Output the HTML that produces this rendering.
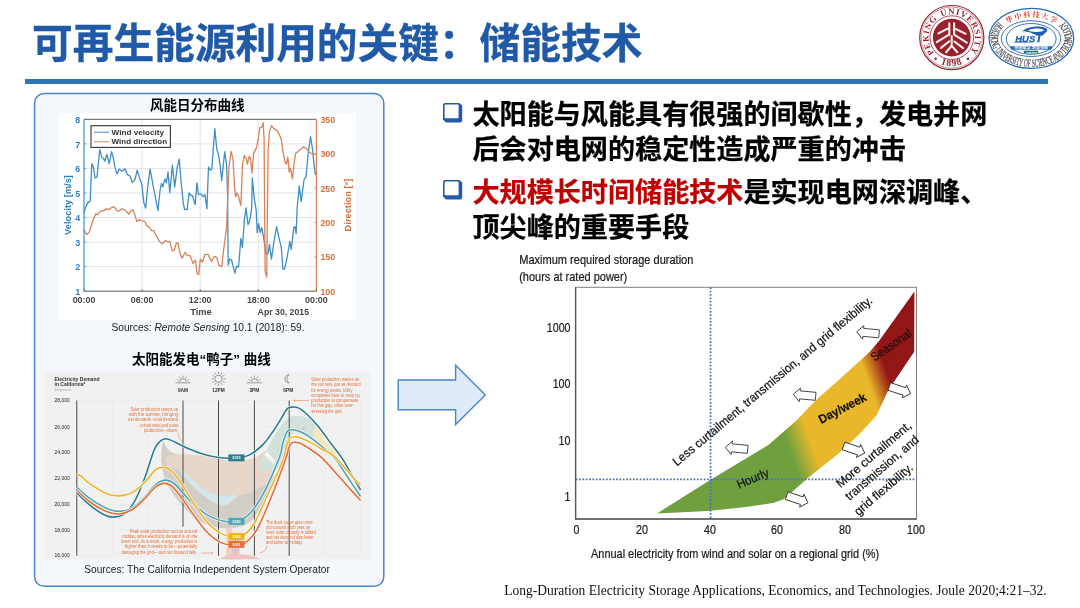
<!DOCTYPE html>
<html lang="zh-CN">
<head>
<meta charset="utf-8">
<title>可再生能源利用的关键：储能技术</title>
<style>
  html,body{margin:0;padding:0;background:#fff;}
  body{width:1080px;height:608px;position:relative;overflow:hidden;
       font-family:"Liberation Sans","Noto Sans CJK SC",sans-serif;}
  .abs{position:absolute;}
  #title{left:32px;top:15px;-webkit-text-stroke:0.35px #205aa7;font-size:40.7px;line-height:58px;font-weight:bold;color:#205aa7;white-space:nowrap;
         font-family:"Liberation Sans","Noto Sans CJK SC",sans-serif;letter-spacing:0;}
  #rule{left:25px;top:79px;width:1023px;height:5px;background:#2e75b6;}
  #panel{left:34px;top:93px;width:348px;height:492px;border:1.3px solid #4a86c6;border-radius:10px;background:#f4f8fd;}
  .ctitle{font-weight:bold;font-size:13.5px;color:#000;white-space:nowrap;text-align:center;
          font-family:"Liberation Sans","Noto Sans CJK SC",sans-serif;}
  .src{font-size:10.2px;color:#222;white-space:nowrap;text-align:center;font-family:"Liberation Sans",sans-serif;}
  .bl{-webkit-text-stroke:0.25px currentColor;left:472.5px;font-size:27.1px;line-height:34px;font-weight:bold;color:#000;white-space:nowrap;
      font-family:"Liberation Sans","Noto Sans CJK SC",sans-serif;}
  .red{color:#c00000;}
  .box{width:14px;height:13.6px;border:1.6px solid #245aa8;border-right-width:3.7px;border-bottom-width:4.3px;border-radius:2px 3px 3px 3px;background:#fff;}
  #cite{left:504.3px;top:581.5px;font-family:"Liberation Serif",serif;font-size:13.52px;line-height:18px;color:#111;white-space:nowrap;}
  #storage text{stroke:#1a1a1a;stroke-width:0.22px;}
</style>
</head>
<body>
<div id="title" class="abs">可再生能源利用的关键：储能技术</div>
<div id="rule" class="abs"></div>

<!-- LOGOS -->
<svg class="abs" style="left:910px;top:0" width="170" height="78" viewBox="910 0 170 78">
<defs><filter id="bl4" x="-5%" y="-5%" width="110%" height="110%"><feGaussianBlur stdDeviation="0.35"/></filter>
<path id="pkuTop" d="M934.22 52.89 A23.3 23.3 0 0 1 937.14 19.49"/>
<path id="pkuTop2" d="M941.59 16.66 A23.3 23.3 0 0 1 970.41 51.62"/>
<path id="pkuBot" d="M927.03 51.90 A28.6 28.6 0 0 0 976.57 51.90"/>
<path id="hustBot" d="M998.55 21.71 A40.6 28.4 0 1 0 1064.25 21.71"/>
<path id="hustTop" d="M1007.52 23.60 A33.2 21.3 0 0 1 1055.28 23.60"/>
</defs>
<g filter="url(#bl4)">
<circle cx="951.8" cy="37.6" r="32.1" fill="#fff" stroke="#9a2232" stroke-width="1.2"/>
<circle cx="951.8" cy="37.6" r="30.6" fill="none" stroke="#9a2232" stroke-width="0.5"/>
<circle cx="951.8" cy="37.6" r="21.8" fill="none" stroke="#9a2232" stroke-width="0.8"/>
<circle cx="951.8" cy="37.6" r="18.9" fill="#97202f"/>
<text font-family="'Liberation Serif',serif" font-weight="bold" font-size="8.6" fill="#9a2232"><textPath href="#pkuTop" textLength="37.4" lengthAdjust="spacing">PEKING</textPath></text>
<text font-family="'Liberation Serif',serif" font-weight="bold" font-size="8.6" fill="#9a2232"><textPath href="#pkuTop2" textLength="62.2" lengthAdjust="spacing">UNIVERSITY</textPath></text>
<text font-family="'Liberation Serif',serif" font-weight="bold" font-size="9.8" fill="#9a2232" text-anchor="middle" letter-spacing="0.9"><textPath href="#pkuBot" startOffset="50%">1898</textPath></text>
<circle cx="935.6" cy="58.7" r="1.3" fill="#9a2232"/>
<circle cx="968.0" cy="58.7" r="1.3" fill="#9a2232"/>
<path d="M949.3 23.4 L949.3 35.1 M954.1 23.4 L954.1 34.6 M938.5 33.4 L947.4 28.8 M936.8 42.2 L949.0 34.6 M941.0 47.9 L949.3 41.3 M956.0 29.1 L965.5 33.7 M954.5 34.8 L966.8 42.6 M954.3 41.5 L963.1 48.2 M951.7 36.4 L951.7 46.3 M951.7 45.7 L946.1 52.3 M951.7 45.7 L957.3 52.3" stroke="#f8ecec" stroke-width="2.1" stroke-linecap="round" fill="none"/>
<ellipse cx="1031.4" cy="38.3" rx="42.3" ry="30" fill="#fff" stroke="#2468b4" stroke-width="1.3"/>
<ellipse cx="1031.0" cy="38.6" rx="29.7" ry="17.9" fill="none" stroke="#2468b4" stroke-width="0.9"/>
<ellipse cx="1031.2" cy="38.9" rx="24.9" ry="15.4" fill="none" stroke="#2468b4" stroke-width="0.9"/>
<text font-family="'Liberation Serif',serif" font-size="10.8" fill="#444" stroke="#444" stroke-width="0.2"><textPath href="#hustBot" textLength="147.1" lengthAdjust="spacingAndGlyphs">HUAZHONG UNIVERSITY OF SCIENCE AND TECHNOLOGY</textPath></text>
<text font-family="'Liberation Serif','Noto Serif CJK SC',serif" font-weight="700" font-size="7.2" fill="#e23a2e"><textPath href="#hustTop" textLength="50.2" lengthAdjust="spacing">华中科技大学</textPath></text>
<text x="1015.3" y="42.0" font-family="'Liberation Sans',sans-serif" font-weight="bold" font-style="italic" font-size="9.2" fill="#1f5fae" stroke="#1f5fae" stroke-width="0.25" textLength="27.2" lengthAdjust="spacingAndGlyphs">HUS<tspan font-size="11.6">T</tspan></text>
<path d="M1022.0 31.3 C1028.5 25.2 1044.7 25.2 1047.3 29.5 C1046.9 33.3 1042.4 34.7 1041.0 35.5 L1036.5 35.3 C1032.9 33.3 1026.2 30.8 1022.0 31.3 Z" fill="#1f5fae"/>
<path d="M1027.9 30.4 C1032.9 28.0 1041.3 28.0 1044.1 30.3 C1041.9 32.5 1034.1 32.5 1027.9 30.4 Z" fill="#fff"/>
<path d="M1012.3 42.6 L1019.5 40.9 L1035.2 42.6 Z" fill="#1f5fae"/>
<path d="M1009.7 46.3 H1052.8 L1051.2 49.8 H1011.3 Z" fill="#2468b4"/>
<text x="1031.4" y="49.2" text-anchor="middle" font-family="'Liberation Sans','Noto Sans CJK SC',sans-serif" font-weight="bold" font-size="3.3" fill="#fff" textLength="34" lengthAdjust="spacingAndGlyphs">明德厚学 求是创新</text>
<rect x="1024.0" y="50.7" width="14.1" height="2.6" fill="#2468b4"/>
<text x="1031.6" y="52.8" text-anchor="middle" font-family="'Liberation Sans',sans-serif" font-weight="bold" font-size="2.3" fill="#fff">1952 2000</text>
</g></svg>

<svg class="abs" style="left:30px;top:88px" width="360" height="504" viewBox="30 88 360 504"><rect x="34.6" y="93.4" width="349.2" height="492.9" rx="9.5" ry="9.5" fill="#f4f8fd" stroke="#4a86c6" stroke-width="1.5"/></svg>
<div class="abs ctitle" style="left:48.3px;top:94px;width:298px;">风能日分布曲线</div>
<svg class="abs" style="left:0;top:0" width="400" height="330" viewBox="0 0 400 330">
<defs><filter id="bl1" x="-5%" y="-5%" width="110%" height="110%"><feGaussianBlur stdDeviation="0.45"/></filter></defs>
<rect x="59.3" y="113" width="296.7" height="206.5" fill="#fff"/>
<g filter="url(#bl1)" font-family="'Liberation Sans',sans-serif" font-weight="bold" font-size="8.9">
<path d="M142.1 119.3 V291.2 M200.2 119.3 V291.2 M258.3 119.3 V291.2 M84.0 266.6 H316.4 M84.0 242.1 H316.4 M84.0 217.5 H316.4 M84.0 193.0 H316.4 M84.0 168.4 H316.4 M84.0 143.9 H316.4" stroke="#d6dde3" stroke-width="0.8" fill="none"/>
<path d="M83.9 212.5 L85.5 207.6 L87.9 202.6 L90.1 201.1 L91.8 163.6 L93.4 167.1 L95.0 178.0 L97.0 177.0 L99.7 149.7 L101.7 157.2 L103.3 158.2 L104.9 161.2 L106.8 154.3 L109.2 163.6 L111.6 151.7 L113.6 159.2 L115.1 168.1 L117.1 174.0 L119.1 169.1 L122.0 171.1 L125.0 168.7 L127.4 174.6 L129.9 176.0 L132.3 182.5 L134.9 179.9 L137.2 170.1 L139.8 178.9 L141.8 183.9 L143.8 202.6 L145.7 208.2 L147.7 186.8 L150.1 169.1 L152.6 182.9 L155.6 198.7 L158.0 210.5 L160.1 189.8 L161.5 183.3 L162.9 186.8 L164.9 178.9 L166.4 182.9 L168.0 172.0 L169.8 192.8 L172.4 165.1 L174.7 186.8 L177.3 167.1 L179.3 159.2 L181.2 182.9 L183.2 202.6 L184.6 209.5 L187.2 209.5 L189.1 192.8 L191.1 195.7 L192.5 195.7 L195.1 204.6 L197.0 182.9 L198.4 194.3 L201.0 193.8 L203.0 196.7 L204.9 194.7 L206.9 208.6 L208.5 167.1 L210.3 170.1 L211.8 169.1 L214.8 128.6 L216.8 149.3 L218.2 153.3 L220.1 165.1 L221.7 180.5 L224.7 151.7 L226.6 165.1 L227.6 194.7 L227.8 219.7 L228.2 265.1 L229.6 259.2 L231.6 260.2 L233.6 268.1 L234.9 273.0 L236.5 266.1 L238.5 267.1 L240.9 238.5 L242.4 247.4 L244.4 219.7 L246.0 207.9 L248.0 224.7 L249.7 220.7 L251.7 207.9 L252.3 178.0 L254.3 198.7 L256.2 210.5 L257.2 232.6 L258.6 223.7 L260.2 232.6 L261.8 227.6 L263.6 237.5 L266.1 254.3 L268.1 253.3 L269.5 244.4 L271.4 259.2 L274.0 241.4 L276.6 226.6 L278.9 237.5 L281.3 247.4 L282.9 269.1 L284.5 269.1 L286.8 259.2 L289.8 241.4 L291.2 249.3 L293.8 227.6 L295.1 226.6 L296.1 233.6 L297.3 205.9 L297.7 202.6 L299.3 185.9 L301.1 201.6 L304.2 178.9 L306.0 177.0 L308.2 153.3 L310.5 136.5 L312.5 149.3 L314.1 165.1 L315.5 175.0" fill="none" stroke="#3f8fc4" stroke-width="1.3" stroke-linejoin="round"/>
<path d="M83.9 229.6 L85.5 232.6 L86.9 234.5 L89.5 231.6 L92.4 221.7 L95.8 213.8 L97.4 214.8 L100.9 210.9 L103.3 210.9 L106.2 208.9 L109.2 209.5 L111.6 207.5 L114.1 206.9 L117.1 210.9 L119.1 210.9 L121.4 208.9 L125.0 209.9 L128.9 214.2 L130.9 210.9 L132.9 209.9 L134.9 214.8 L136.8 221.7 L138.8 219.7 L140.8 220.7 L144.7 221.3 L146.7 225.7 L148.7 226.6 L151.6 230.6 L153.6 230.6 L156.6 236.5 L159.5 241.4 L162.5 243.8 L165.5 240.5 L167.4 241.8 L169.8 241.4 L172.4 250.9 L174.3 250.3 L176.3 243.0 L177.9 243.0 L180.3 254.3 L182.2 258.2 L185.2 252.3 L187.2 255.3 L190.1 255.7 L193.1 263.6 L195.5 260.2 L197.0 273.0 L198.6 274.6 L200.4 259.2 L202.4 262.2 L204.9 254.3 L207.9 254.3 L211.4 261.2 L214.8 256.2 L216.8 257.6 L218.8 265.1 L221.7 266.7 L223.7 249.3 L226.6 227.6 L227.6 200.0 L229.0 167.1 L231.0 151.3 L233.0 159.2 L234.5 186.8 L235.5 196.7 L236.9 192.8 L238.5 196.7 L240.9 205.6 L242.4 165.1 L244.4 155.3 L246.4 159.2 L247.4 164.1 L249.3 156.2 L250.7 159.2 L251.9 173.0 L253.7 153.3 L256.2 148.4 L258.2 139.5 L259.8 127.6 L261.6 127.6 L263.2 122.7 L264.1 139.5 L265.1 271.1 L266.7 277.0 L268.1 149.3 L269.5 131.6 L271.4 125.7 L274.0 128.6 L277.0 130.6 L278.9 133.6 L281.3 139.5 L282.9 151.3 L285.3 163.2 L286.4 164.1 L287.8 157.2 L289.2 172.0 L290.4 168.1 L292.4 178.9 L294.3 161.2 L295.7 153.3 L297.7 151.7 L300.7 149.3 L303.6 146.8 L306.6 148.9 L309.5 152.3 L312.5 154.3 L315.5 153.7" fill="none" stroke="#d9825a" stroke-width="1.3" stroke-linejoin="round"/>
<path d="M84.0 119.3 H316.4 M84.0 291.2 H316.4" stroke="#555" stroke-width="1"/>
<path d="M84.0 119.3 V291.2" stroke="#3f8fc4" stroke-width="1.2"/>
<path d="M316.4 119.3 V291.2" stroke="#d9825a" stroke-width="1.2"/>
<path d="M84.0 291.2 v-2.2 M142.1 291.2 v-2.2 M200.2 291.2 v-2.2 M258.3 291.2 v-2.2 M316.4 291.2 v-2.2" stroke="#555" stroke-width="0.8"/>
<path d="M84.0 291.2 h2.2 M84.0 266.6 h2.2 M84.0 242.1 h2.2 M84.0 217.5 h2.2 M84.0 193.0 h2.2 M84.0 168.4 h2.2 M84.0 143.9 h2.2 M84.0 119.3 h2.2" stroke="#3f8fc4" stroke-width="0.8"/>
<path d="M316.4 291.2 h-2.2 M316.4 256.8 h-2.2 M316.4 222.4 h-2.2 M316.4 188.1 h-2.2 M316.4 153.7 h-2.2 M316.4 119.3 h-2.2" stroke="#d9825a" stroke-width="0.8"/>
<text x="80.3" y="294.9" text-anchor="end" fill="#2f80bd">1</text>
<text x="80.3" y="270.3" text-anchor="end" fill="#2f80bd">2</text>
<text x="80.3" y="245.8" text-anchor="end" fill="#2f80bd">3</text>
<text x="80.3" y="221.2" text-anchor="end" fill="#2f80bd">4</text>
<text x="80.3" y="196.7" text-anchor="end" fill="#2f80bd">5</text>
<text x="80.3" y="172.1" text-anchor="end" fill="#2f80bd">6</text>
<text x="80.3" y="147.6" text-anchor="end" fill="#2f80bd">7</text>
<text x="80.3" y="123.0" text-anchor="end" fill="#2f80bd">8</text>
<text x="320.4" y="294.7" fill="#d6713f">100</text>
<text x="320.4" y="260.3" fill="#d6713f">150</text>
<text x="320.4" y="225.9" fill="#d6713f">200</text>
<text x="320.4" y="191.6" fill="#d6713f">250</text>
<text x="320.4" y="157.2" fill="#d6713f">300</text>
<text x="320.4" y="122.8" fill="#d6713f">350</text>
<text x="84.0" y="303.1" text-anchor="middle" fill="#444">00:00</text>
<text x="142.1" y="303.1" text-anchor="middle" fill="#444">06:00</text>
<text x="200.2" y="303.1" text-anchor="middle" fill="#444">12:00</text>
<text x="258.3" y="303.1" text-anchor="middle" fill="#444">18:00</text>
<text x="316.4" y="303.1" text-anchor="middle" fill="#444">00:00</text>
<text x="201" y="314.8" text-anchor="middle" fill="#444" font-size="9.3">Time</text>
<text x="257.6" y="314.8" fill="#444" font-size="9.3" textLength="51.4" lengthAdjust="spacingAndGlyphs">Apr 30, 2015</text>
<text transform="translate(70.6 205) rotate(-90)" text-anchor="middle" fill="#2f80bd" font-size="9.3">Velocity [m/s]</text>
<text transform="translate(350.5 205) rotate(-90)" text-anchor="middle" fill="#d6713f" font-size="9.3">Direction [°]</text>
<rect x="91" y="125.7" width="79.4" height="21.7" fill="#fff" stroke="#333" stroke-width="1.1"/>
<path d="M93.8 132.2 H109.2" stroke="#3f8fc4" stroke-width="1"/>
<path d="M93.8 141.8 H109.2" stroke="#d9825a" stroke-width="1"/>
<text x="111.6" y="134.6" fill="#333" font-size="6.9" textLength="52.5" lengthAdjust="spacingAndGlyphs">Wind velocity</text>
<text x="111.6" y="144.2" fill="#333" font-size="6.9" textLength="55.5" lengthAdjust="spacingAndGlyphs">Wind direction</text>
</g></svg>
<div class="abs src" style="left:59px;top:322px;width:298px;">Sources: <i>Remote Sensing</i> 10.1 (2018): 59.</div>
<div class="abs ctitle" style="left:38.3px;top:348px;width:326px;">太阳能发电“鸭子” 曲线</div>
<svg class="abs" style="left:0;top:330px" width="400" height="260" viewBox="0 330 400 260">
<defs><filter id="bl2" x="-5%" y="-5%" width="110%" height="110%"><feGaussianBlur stdDeviation="0.35"/></filter>
<clipPath id="dclip"><rect x="44.3" y="371.6" width="326.1" height="188"/></clipPath></defs>
<rect x="44.3" y="371.6" width="326.1" height="188" fill="#f1f1f1"/>
<g filter="url(#bl2)" clip-path="url(#dclip)" font-family="'Liberation Sans',sans-serif">
<path d="M76.8 400.5 H360.6 M76.8 426.8 H360.6 M76.8 452.5 H360.6 M76.8 478.1 H360.6 M76.8 504.4 H360.6 M76.8 530.1 H360.6 M76.8 555.1 H360.6 M112.3 400.5 V555.7 M147.9 400.5 V555.7 M324.8 400.5 V555.7 M360.6 400.5 V555.7" stroke="#e0e0e0" stroke-width="0.6" stroke-dasharray="0.8 0.8" fill="none"/>
<rect x="226.3" y="524.7" width="5.8" height="40" fill="#f3cfc2"/>
<rect x="232.1" y="536.2" width="7.4" height="30" fill="#e4c3c4"/>
<path d="M219.4 559.5 C 227.5 552.4 250.5 552.4 260.8 559.5 Z" fill="#ecc4c0"/>
<path d="M163.0 441.9 C164.1 439.8 165.3 446.7 167.6 448.8 C169.9 450.8 169.9 452.7 176.8 454.1 C183.7 455.4 199.1 455.6 209.1 456.8 C219.0 458.1 229.0 461.2 236.7 461.4 C244.3 461.6 250.2 459.5 255.1 458.0 C260.0 456.4 263.0 449.9 266.1 452.2 C269.3 454.5 273.5 466.0 274.2 471.8 C274.8 477.5 272.1 481.2 270.1 486.8 C268.0 492.3 265.3 499.4 262.0 505.2 C258.7 510.9 254.7 517.5 250.5 521.3 C246.3 525.0 242.0 526.6 236.7 527.7 C231.3 528.8 224.4 528.8 218.3 527.7 C212.1 526.6 205.2 524.3 199.8 521.3 C194.5 518.3 190.3 514.0 186.0 509.8 C181.8 505.5 178.0 500.9 174.5 496.0 C171.1 491.0 167.5 485.6 165.3 479.8 C163.1 474.1 161.8 467.8 161.4 461.4 C161.0 455.1 162.0 444.0 163.0 441.9Z" fill="#d3cec5"/>
<path d="M165.8 457.3 C168.1 455.3 174.2 454.1 181.4 454.1 C188.6 454.0 199.8 455.6 209.1 456.8 C218.3 458.1 229.0 461.2 236.7 461.4 C244.3 461.6 250.2 459.5 255.1 458.0 C260.0 456.4 263.0 449.9 266.1 452.2 C269.3 454.5 273.7 467.0 274.2 471.8 C274.7 476.6 272.1 477.9 268.9 481.0 C265.7 484.1 260.5 487.7 255.1 490.2 C249.7 492.7 242.4 495.0 236.7 496.0 C230.9 496.9 225.9 497.1 220.6 496.0 C215.2 494.8 209.4 492.1 204.5 489.1 C199.5 486.0 194.9 480.8 190.6 477.5 C186.4 474.3 183.0 471.4 179.1 469.5 C175.3 467.6 169.8 468.1 167.6 466.0 C165.4 464.0 163.5 459.3 165.8 457.3Z" fill="#e7d7cb"/>
<path d="M179.1 469.5 C179.5 471.0 188.0 481.8 192.9 486.8 C197.9 491.7 204.1 496.3 209.1 499.4 C214.0 502.6 219.0 505.4 222.9 505.6 C226.7 505.9 229.7 502.8 232.1 501.0 C234.5 499.2 239.1 495.7 237.1 494.8 C235.2 494.0 226.0 496.9 220.6 496.0 C215.1 495.0 209.4 492.1 204.5 489.1 C199.5 486.0 194.9 480.8 190.6 477.5 C186.4 474.3 178.7 468.0 179.1 469.5Z" fill="#d3e6ea"/>
<path d="M286.8 418.9 C290.5 415.8 293.3 416.2 296.7 416.0 C300.2 415.8 304.6 416.6 307.6 418.0 C310.5 419.3 312.9 421.6 314.5 423.9 C316.0 426.2 317.2 429.6 316.8 431.8 C316.5 434.0 314.9 436.6 312.5 437.1 C310.1 437.6 305.8 435.5 302.6 434.7 C299.5 434.0 296.2 431.4 293.8 432.8 C291.3 434.1 289.8 438.4 287.8 442.6 C285.9 446.9 283.4 454.1 281.9 458.4 C280.4 462.7 282.7 466.6 278.9 468.3 C275.2 469.9 261.5 470.8 259.2 468.3 C256.9 465.8 262.5 459.1 265.1 453.5 C267.8 447.9 271.4 440.5 275.0 434.7 C278.6 429.0 283.2 422.1 286.8 418.9Z" fill="#d2e2da"/>
<path d="M313.5 429.8 C314.1 427.8 316.3 426.7 318.4 428.8 C320.6 431.0 323.4 438.7 326.3 442.6 C329.3 446.6 335.5 450.4 336.2 452.5 C336.8 454.6 332.9 455.8 330.3 455.5 C327.6 455.1 323.0 453.0 320.4 450.5 C317.8 448.1 315.6 444.1 314.5 440.7 C313.3 437.2 312.8 431.8 313.5 429.8Z" fill="#f6e6bd"/>
<circle cx="303.6" cy="428.2" r="1.3" fill="#d9bcc3"/>
<path d="M264.3 454.5 L267.1 451.8 L275.8 461.4 L273.5 464.2 Z" fill="#f4f4f2"/>
<path d="M76.8 400.5 V555.7 M183.0 400.5 V526.8 M218.5 400.5 V555.7 M254.4 400.5 V555.7 M289.2 400.5 V555.7" stroke="#4a4a4a" stroke-width="1" fill="none"/>
<path d="M76.8 492.6 C78.9 494.6 84.5 500.9 89.3 504.7 C94.1 508.6 101.4 513.6 105.8 515.6 C110.1 517.6 112.3 517.4 115.6 516.9 C118.9 516.5 122.2 515.8 125.5 513.0 C128.8 510.1 132.1 505.8 135.4 499.8 C138.6 493.8 141.9 485.5 145.2 476.8 C148.5 468.1 151.9 454.2 155.1 447.9 C158.3 441.6 161.0 440.0 164.3 439.0 C167.6 438.0 170.9 440.4 174.8 441.9 C178.8 443.5 183.0 446.4 188.0 448.5 C192.9 450.6 198.9 452.9 204.4 454.4 C209.9 456.0 215.4 457.1 220.9 457.7 C226.3 458.3 232.4 458.6 237.3 458.1 C242.2 457.5 246.1 456.8 250.4 454.4 C254.8 452.1 259.9 447.7 263.6 443.9 C267.3 440.1 269.9 435.9 272.8 431.8 C275.7 427.6 278.7 422.7 281.0 418.9 C283.4 415.1 285.1 411.0 286.9 409.1 C288.8 407.1 289.9 407.3 291.9 407.1 C293.8 406.9 296.3 406.9 298.8 408.1 C301.2 409.2 303.4 410.9 306.7 414.0 C310.0 417.1 314.6 422.1 318.5 426.8 C322.5 431.6 326.4 437.3 330.3 442.6 C334.3 447.9 338.5 452.8 342.2 458.4 C345.9 464.0 349.3 470.9 352.4 476.1 C355.4 481.4 359.2 487.6 360.6 490.0" fill="none" stroke="#f8f8f6" stroke-width="3.1" opacity="0.85"/>
<path d="M76.8 492.6 C78.9 494.6 84.5 500.9 89.3 504.7 C94.1 508.6 101.4 513.6 105.8 515.6 C110.1 517.6 112.3 517.4 115.6 516.9 C118.9 516.5 122.2 515.8 125.5 513.0 C128.8 510.1 132.1 505.8 135.4 499.8 C138.6 493.8 141.9 485.5 145.2 476.8 C148.5 468.1 151.9 454.2 155.1 447.9 C158.3 441.6 161.0 440.0 164.3 439.0 C167.6 438.0 170.9 440.4 174.8 441.9 C178.8 443.5 183.0 446.4 188.0 448.5 C192.9 450.6 198.9 452.9 204.4 454.4 C209.9 456.0 215.4 457.1 220.9 457.7 C226.3 458.3 232.4 458.6 237.3 458.1 C242.2 457.5 246.1 456.8 250.4 454.4 C254.8 452.1 259.9 447.7 263.6 443.9 C267.3 440.1 269.9 435.9 272.8 431.8 C275.7 427.6 278.7 422.7 281.0 418.9 C283.4 415.1 285.1 411.0 286.9 409.1 C288.8 407.1 289.9 407.3 291.9 407.1 C293.8 406.9 296.3 406.9 298.8 408.1 C301.2 409.2 303.4 410.9 306.7 414.0 C310.0 417.1 314.6 422.1 318.5 426.8 C322.5 431.6 326.4 437.3 330.3 442.6 C334.3 447.9 338.5 452.8 342.2 458.4 C345.9 464.0 349.3 470.9 352.4 476.1 C355.4 481.4 359.2 487.6 360.6 490.0" fill="none" stroke="#2b7f8f" stroke-width="1.6"/>
<path d="M76.8 487.3 C78.9 489.1 84.5 494.7 89.3 498.2 C94.1 501.6 100.8 505.8 105.8 508.0 C110.7 510.2 114.5 511.3 118.9 511.3 C123.3 511.3 127.7 510.5 132.1 508.0 C136.5 505.6 141.4 500.4 145.2 496.5 C149.1 492.7 151.8 487.8 155.1 485.0 C158.4 482.3 161.7 480.3 165.0 480.1 C168.2 479.9 171.5 481.6 174.8 484.0 C178.1 486.5 180.8 490.9 184.7 494.9 C188.5 498.9 193.4 504.4 197.8 508.0 C202.2 511.7 206.6 514.7 211.0 516.9 C215.4 519.1 219.8 520.5 224.1 521.2 C228.5 521.9 232.9 522.6 237.3 521.2 C241.7 519.8 246.1 517.6 250.4 513.0 C254.8 508.3 258.8 502.3 263.6 493.2 C268.4 484.1 275.8 466.8 279.1 458.4 C282.3 449.9 281.7 447.0 283.0 442.6 C284.3 438.2 285.6 433.9 286.9 431.8 C288.3 429.6 289.2 430.0 290.9 429.8 C292.5 429.6 294.5 429.8 296.8 430.4 C299.1 431.1 301.7 432.0 304.7 433.7 C307.7 435.4 310.9 437.8 314.6 440.6 C318.2 443.4 322.8 447.3 326.4 450.5 C330.0 453.7 332.8 455.6 336.3 460.0 C339.8 464.4 343.4 470.7 347.4 476.8 C351.5 482.9 358.4 493.2 360.6 496.5" fill="none" stroke="#f8f8f6" stroke-width="3.1" opacity="0.85"/>
<path d="M76.8 487.3 C78.9 489.1 84.5 494.7 89.3 498.2 C94.1 501.6 100.8 505.8 105.8 508.0 C110.7 510.2 114.5 511.3 118.9 511.3 C123.3 511.3 127.7 510.5 132.1 508.0 C136.5 505.6 141.4 500.4 145.2 496.5 C149.1 492.7 151.8 487.8 155.1 485.0 C158.4 482.3 161.7 480.3 165.0 480.1 C168.2 479.9 171.5 481.6 174.8 484.0 C178.1 486.5 180.8 490.9 184.7 494.9 C188.5 498.9 193.4 504.4 197.8 508.0 C202.2 511.7 206.6 514.7 211.0 516.9 C215.4 519.1 219.8 520.5 224.1 521.2 C228.5 521.9 232.9 522.6 237.3 521.2 C241.7 519.8 246.1 517.6 250.4 513.0 C254.8 508.3 258.8 502.3 263.6 493.2 C268.4 484.1 275.8 466.8 279.1 458.4 C282.3 449.9 281.7 447.0 283.0 442.6 C284.3 438.2 285.6 433.9 286.9 431.8 C288.3 429.6 289.2 430.0 290.9 429.8 C292.5 429.6 294.5 429.8 296.8 430.4 C299.1 431.1 301.7 432.0 304.7 433.7 C307.7 435.4 310.9 437.8 314.6 440.6 C318.2 443.4 322.8 447.3 326.4 450.5 C330.0 453.7 332.8 455.6 336.3 460.0 C339.8 464.4 343.4 470.7 347.4 476.8 C351.5 482.9 358.4 493.2 360.6 496.5" fill="none" stroke="#4fa5b8" stroke-width="1.6"/>
<path d="M76.8 476.1 C77.4 476.0 78.0 473.9 80.1 475.2 C82.2 476.4 85.0 480.4 89.3 483.4 C93.6 486.4 100.8 491.2 105.8 493.2 C110.7 495.3 114.5 496.0 118.9 495.9 C123.3 495.8 127.7 494.9 132.1 492.6 C136.5 490.2 141.4 485.5 145.2 481.7 C149.1 478.0 152.1 472.6 155.1 470.2 C158.1 467.8 160.6 467.2 163.3 467.3 C166.0 467.4 168.5 468.2 171.5 470.9 C174.5 473.6 177.6 477.7 181.4 483.4 C185.2 489.0 190.2 498.2 194.5 504.7 C198.9 511.3 203.3 518.1 207.7 522.8 C212.1 527.6 216.5 531.1 220.9 533.4 C225.2 535.7 230.2 536.4 234.0 536.6 C237.8 536.9 240.6 536.7 243.9 534.7 C247.2 532.6 249.9 530.8 253.7 524.5 C257.6 518.1 262.0 507.3 266.9 496.5 C271.8 485.8 279.7 468.7 283.0 460.0 C286.3 451.4 285.8 448.2 286.9 444.6 C288.1 441.0 288.8 439.6 289.9 438.3 C291.1 437.0 292.0 436.7 293.8 436.7 C295.7 436.6 298.0 437.0 300.8 438.0 C303.5 439.0 307.0 440.7 310.6 442.6 C314.2 444.5 318.5 447.2 322.5 449.5 C326.4 451.8 329.3 451.9 334.3 456.4 C339.3 461.0 348.0 472.0 352.4 476.8 C356.8 481.6 359.2 483.6 360.6 485.0" fill="none" stroke="#f8f8f6" stroke-width="3.1" opacity="0.85"/>
<path d="M76.8 476.1 C77.4 476.0 78.0 473.9 80.1 475.2 C82.2 476.4 85.0 480.4 89.3 483.4 C93.6 486.4 100.8 491.2 105.8 493.2 C110.7 495.3 114.5 496.0 118.9 495.9 C123.3 495.8 127.7 494.9 132.1 492.6 C136.5 490.2 141.4 485.5 145.2 481.7 C149.1 478.0 152.1 472.6 155.1 470.2 C158.1 467.8 160.6 467.2 163.3 467.3 C166.0 467.4 168.5 468.2 171.5 470.9 C174.5 473.6 177.6 477.7 181.4 483.4 C185.2 489.0 190.2 498.2 194.5 504.7 C198.9 511.3 203.3 518.1 207.7 522.8 C212.1 527.6 216.5 531.1 220.9 533.4 C225.2 535.7 230.2 536.4 234.0 536.6 C237.8 536.9 240.6 536.7 243.9 534.7 C247.2 532.6 249.9 530.8 253.7 524.5 C257.6 518.1 262.0 507.3 266.9 496.5 C271.8 485.8 279.7 468.7 283.0 460.0 C286.3 451.4 285.8 448.2 286.9 444.6 C288.1 441.0 288.8 439.6 289.9 438.3 C291.1 437.0 292.0 436.7 293.8 436.7 C295.7 436.6 298.0 437.0 300.8 438.0 C303.5 439.0 307.0 440.7 310.6 442.6 C314.2 444.5 318.5 447.2 322.5 449.5 C326.4 451.8 329.3 451.9 334.3 456.4 C339.3 461.0 348.0 472.0 352.4 476.8 C356.8 481.6 359.2 483.6 360.6 485.0" fill="none" stroke="#f0b429" stroke-width="1.6"/>
<path d="M76.8 490.0 C78.9 491.9 84.5 497.9 89.3 501.5 C94.1 505.0 100.8 509.2 105.8 511.3 C110.7 513.4 114.5 514.2 118.9 514.0 C123.3 513.7 127.7 512.3 132.1 509.7 C136.5 507.1 141.4 501.9 145.2 498.2 C149.1 494.4 151.9 489.8 155.1 487.3 C158.3 484.9 161.3 483.4 164.3 483.4 C167.3 483.4 170.0 484.6 173.2 487.3 C176.3 490.1 179.5 495.0 183.0 499.8 C186.6 504.6 190.4 510.8 194.5 516.3 C198.7 521.7 203.3 528.3 207.7 532.7 C212.1 537.1 216.5 540.5 220.9 542.6 C225.2 544.6 229.9 545.2 234.0 545.2 C238.1 545.2 241.7 545.2 245.5 542.6 C249.3 539.9 252.9 536.5 257.0 529.4 C261.1 522.3 265.5 511.4 270.2 499.8 C274.9 488.3 282.2 468.7 285.3 460.0 C288.4 451.3 287.8 450.4 288.9 447.5 C290.0 444.7 290.8 443.8 291.9 442.9 C292.9 442.1 293.7 442.2 295.2 442.3 C296.6 442.4 298.2 442.4 300.8 443.6 C303.3 444.8 307.0 447.0 310.6 449.5 C314.2 452.0 317.7 453.8 322.5 458.4 C327.2 462.9 334.2 471.3 339.2 476.8 C344.2 482.3 348.8 487.6 352.4 491.6 C355.9 495.5 359.2 499.0 360.6 500.5" fill="none" stroke="#f8f8f6" stroke-width="3.1" opacity="0.85"/>
<path d="M76.8 490.0 C78.9 491.9 84.5 497.9 89.3 501.5 C94.1 505.0 100.8 509.2 105.8 511.3 C110.7 513.4 114.5 514.2 118.9 514.0 C123.3 513.7 127.7 512.3 132.1 509.7 C136.5 507.1 141.4 501.9 145.2 498.2 C149.1 494.4 151.9 489.8 155.1 487.3 C158.3 484.9 161.3 483.4 164.3 483.4 C167.3 483.4 170.0 484.6 173.2 487.3 C176.3 490.1 179.5 495.0 183.0 499.8 C186.6 504.6 190.4 510.8 194.5 516.3 C198.7 521.7 203.3 528.3 207.7 532.7 C212.1 537.1 216.5 540.5 220.9 542.6 C225.2 544.6 229.9 545.2 234.0 545.2 C238.1 545.2 241.7 545.2 245.5 542.6 C249.3 539.9 252.9 536.5 257.0 529.4 C261.1 522.3 265.5 511.4 270.2 499.8 C274.9 488.3 282.2 468.7 285.3 460.0 C288.4 451.3 287.8 450.4 288.9 447.5 C290.0 444.7 290.8 443.8 291.9 442.9 C292.9 442.1 293.7 442.2 295.2 442.3 C296.6 442.4 298.2 442.4 300.8 443.6 C303.3 444.8 307.0 447.0 310.6 449.5 C314.2 452.0 317.7 453.8 322.5 458.4 C327.2 462.9 334.2 471.3 339.2 476.8 C344.2 482.3 348.8 487.6 352.4 491.6 C355.9 495.5 359.2 499.0 360.6 500.5" fill="none" stroke="#e4703a" stroke-width="1.6"/>
<rect x="228.4" y="454.4" width="16.1" height="6.9" fill="#2b7f8f"/>
<text x="236.5" y="459.3" text-anchor="middle" font-size="3.8" font-weight="bold" fill="#fff">2019</text>
<rect x="228.4" y="517.9" width="16.1" height="6.9" fill="#4fa5b8"/>
<text x="236.5" y="522.8" text-anchor="middle" font-size="3.8" font-weight="bold" fill="#fff">2020</text>
<rect x="228.4" y="533.0" width="16.1" height="6.9" fill="#f6b21d"/>
<text x="236.5" y="537.9" text-anchor="middle" font-size="3.8" font-weight="bold" fill="#fff">2022</text>
<rect x="228.4" y="540.9" width="16.1" height="6.9" fill="#e4703a"/>
<text x="236.5" y="545.8" text-anchor="middle" font-size="3.8" font-weight="bold" fill="#fff">2021</text>
<text x="54.5" y="381.1" font-size="5" font-weight="bold" fill="#333" textLength="45" lengthAdjust="spacingAndGlyphs">Electricity Demand</text>
<text x="54.5" y="386.4" font-size="5" font-weight="bold" fill="#333" textLength="31" lengthAdjust="spacingAndGlyphs">in California*</text>
<text x="54.5" y="391.3" font-size="3.8" font-style="italic" fill="#aaa">Megawatt</text>
<text x="54.5" y="402.3" font-size="5" fill="#222">28,000</text>
<text x="54.5" y="428.6" font-size="5" fill="#222">26,000</text>
<text x="54.5" y="454.3" font-size="5" fill="#222">24,000</text>
<text x="54.5" y="479.9" font-size="5" fill="#222">22,000</text>
<text x="54.5" y="506.2" font-size="5" fill="#222">20,000</text>
<text x="54.5" y="531.9" font-size="5" fill="#222">18,000</text>
<text x="54.5" y="556.9" font-size="5" fill="#222">16,000</text>
<text x="183.0" y="392.0" text-anchor="middle" font-size="4.8" font-weight="bold" fill="#333">9AM</text>
<text x="218.5" y="392.0" text-anchor="middle" font-size="4.8" font-weight="bold" fill="#333">12PM</text>
<text x="254.4" y="392.0" text-anchor="middle" font-size="4.8" font-weight="bold" fill="#333">3PM</text>
<text x="288.3" y="392.0" text-anchor="middle" font-size="4.8" font-weight="bold" fill="#333">6PM</text>
<g stroke="#444" stroke-width="0.5" fill="none"><path d="M175.5 382.8 h15"/><path d="M179.8 381.8 a3.2 3.2 0 0 1 6.4 0"/><path d="M187.1 380.3 L189.0 379.6"/><path d="M185.5 378.3 L186.7 376.6"/><path d="M183.0 377.5 L183.0 375.5"/><path d="M180.6 378.3 L179.4 376.6"/><path d="M179.0 380.3 L177.1 379.6"/></g>
<g stroke="#444" stroke-width="0.5" fill="none"><circle cx="218.5" cy="378.8" r="3.6"/><path d="M223.3 378.8 L225.5 378.8"/><path d="M222.7 376.4 L224.6 375.3"/><path d="M220.9 374.7 L222.0 372.7"/><path d="M218.5 374.0 L218.5 371.8"/><path d="M216.1 374.7 L215.0 372.7"/><path d="M214.4 376.4 L212.5 375.3"/><path d="M213.7 378.8 L211.5 378.8"/><path d="M214.4 381.2 L212.5 382.3"/><path d="M216.1 383.0 L215.0 384.9"/><path d="M218.5 383.6 L218.5 385.8"/><path d="M220.9 383.0 L222.0 384.9"/><path d="M222.7 381.2 L224.6 382.3"/></g>
<g stroke="#444" stroke-width="0.5" fill="none"><path d="M246.9 382.8 h15"/><path d="M251.2 381.8 a3.2 3.2 0 0 1 6.4 0"/><path d="M258.4 380.3 L260.3 379.6"/><path d="M256.9 378.3 L258.0 376.6"/><path d="M254.4 377.5 L254.4 375.5"/><path d="M251.9 378.3 L250.8 376.6"/><path d="M250.4 380.3 L248.5 379.6"/></g>
<path d="M289.1 374.6 a4.2 4.2 0 1 0 0 8.4 a5.2 5.2 0 0 1 0 -8.4z" fill="none" stroke="#444" stroke-width="0.5"/>
<text x="130.4" y="410.6" font-size="4.7" fill="#e4703a" textLength="47.7" lengthAdjust="spacingAndGlyphs">Solar production ramps up</text>
<text x="128.8" y="415.8" font-size="4.7" fill="#e4703a" textLength="49.3" lengthAdjust="spacingAndGlyphs">with the sunrise, bringing</text>
<text x="128.1" y="421.4" font-size="4.7" fill="#e4703a" textLength="50.0" lengthAdjust="spacingAndGlyphs">net demand—total demand</text>
<text x="140.3" y="426.7" font-size="4.7" fill="#e4703a" textLength="37.8" lengthAdjust="spacingAndGlyphs">minus wind and solar</text>
<text x="143.9" y="431.9" font-size="4.7" fill="#e4703a" textLength="34.2" lengthAdjust="spacingAndGlyphs">production—down.</text>
<text x="311.3" y="381.0" font-size="4.7" fill="#e4703a" textLength="47.7" lengthAdjust="spacingAndGlyphs">Solar production wanes as</text>
<text x="311.3" y="386.2" font-size="4.7" fill="#e4703a" textLength="49.3" lengthAdjust="spacingAndGlyphs">the sun sets, just as demand</text>
<text x="311.3" y="391.5" font-size="4.7" fill="#e4703a" textLength="41.1" lengthAdjust="spacingAndGlyphs">for energy peaks. Utility</text>
<text x="311.3" y="396.8" font-size="4.7" fill="#e4703a" textLength="48.3" lengthAdjust="spacingAndGlyphs">companies have to ramp up</text>
<text x="311.3" y="402.0" font-size="4.7" fill="#e4703a" textLength="47.0" lengthAdjust="spacingAndGlyphs">production to compensate</text>
<text x="311.3" y="407.3" font-size="4.7" fill="#e4703a" textLength="42.7" lengthAdjust="spacingAndGlyphs">for this gap, often over-</text>
<text x="311.3" y="412.5" font-size="4.7" fill="#e4703a" textLength="31.2" lengthAdjust="spacingAndGlyphs">stressing the grid.</text>
<text x="129.8" y="532.6" font-size="4.7" fill="#e4703a" textLength="67.4" lengthAdjust="spacingAndGlyphs">Peak solar production occurs around</text>
<text x="122.2" y="537.8" font-size="4.7" fill="#e4703a" textLength="75.0" lengthAdjust="spacingAndGlyphs">midday, when electricity demand is on the</text>
<text x="121.2" y="543.1" font-size="4.7" fill="#e4703a" textLength="76.0" lengthAdjust="spacingAndGlyphs">lower end. As a result, energy production is</text>
<text x="124.8" y="548.3" font-size="4.7" fill="#e4703a" textLength="72.3" lengthAdjust="spacingAndGlyphs">higher than it needs to be—potentially</text>
<text x="121.5" y="553.6" font-size="4.7" fill="#e4703a" textLength="75.6" lengthAdjust="spacingAndGlyphs">damaging the grid— and net demand falls.</text>
<text x="265.9" y="523.7" font-size="4.7" fill="#e4703a" textLength="47.0" lengthAdjust="spacingAndGlyphs">The duck curve gets more</text>
<text x="265.9" y="528.9" font-size="4.7" fill="#e4703a" textLength="44.4" lengthAdjust="spacingAndGlyphs">pronounced each year, as</text>
<text x="265.9" y="533.9" font-size="4.7" fill="#e4703a" textLength="49.7" lengthAdjust="spacingAndGlyphs">more solar capacity is added</text>
<text x="265.9" y="539.1" font-size="4.7" fill="#e4703a" textLength="47.7" lengthAdjust="spacingAndGlyphs">and net demand dips lower</text>
<text x="265.9" y="544.4" font-size="4.7" fill="#e4703a" textLength="37.2" lengthAdjust="spacingAndGlyphs">and lower at midday.</text>
<path d="M309.0 400.5 H293.8 M293.8 400.5 l1.6 -1 M293.8 400.5 l1.6 1" stroke="#e4703a" stroke-width="0.45" fill="none"/>
<path d="M201.1 553.1 H212.6 M212.6 553.1 l-1.6 -1 M212.6 553.1 l-1.6 1" stroke="#e4703a" stroke-width="0.45" fill="none"/>
<path d="M178.1 432.7 Q179.1 440.3 182.1 441.3" stroke="#e4703a" stroke-width="0.45" fill="none"/>
<path d="M266.9 545.9 Q265.9 552.1 259.7 553.1" stroke="#e4703a" stroke-width="0.45" fill="none"/>
</g></svg>
<div class="abs src" style="left:44px;top:564px;width:326px;">Sources: The California Independent System Operator</div>

<!-- big arrow -->
<svg class="abs" style="left:390px;top:355px" width="105" height="80" viewBox="390 355 105 80">
  <path d="M398.2 380 H455.6 V365.2 L485.3 395 L455.6 424.6 V409.8 H398.2 Z" fill="#dfeaf6" stroke="#4a86c6" stroke-width="1.4" stroke-linejoin="miter"/>
</svg>

<!-- bullets -->
<svg class="abs" style="left:442.8px;top:102.5px" width="21" height="21" viewBox="0 0 21 21"><path d="M2 0 H16.2 L19.2 2.6 V17.5 Q19.2 19.5 17.2 19.5 H3 L0 16.6 V2 Q0 0 2 0 Z" fill="#245aa8"/><rect x="1.6" y="1.6" width="14" height="13.6" rx="0.8" fill="#fff"/></svg>
<div class="abs bl" style="top:97.5px;">太阳能与风能具有很强的间歇性，发电并网</div>
<div class="abs bl" style="top:133px;">后会对电网的稳定性造成严重的冲击</div>
<svg class="abs" style="left:442.8px;top:180.4px" width="21" height="21" viewBox="0 0 21 21"><path d="M2 0 H16.2 L19.2 2.6 V17.5 Q19.2 19.5 17.2 19.5 H3 L0 16.6 V2 Q0 0 2 0 Z" fill="#245aa8"/><rect x="1.6" y="1.6" width="14" height="13.6" rx="0.8" fill="#fff"/></svg>
<div class="abs bl" style="top:175.5px;"><span class="red">大规模长时间储能技术</span>是实现电网深调峰、</div>
<div class="abs bl" style="top:210.5px;">顶尖峰的重要手段</div>

<svg id="storage" class="abs" style="left:500px;top:240px" width="480" height="340" viewBox="500 240 480 340" font-family="'Liberation Sans',sans-serif">
<defs><linearGradient id="gband" gradientUnits="userSpaceOnUse" x1="691.8" y1="450" x2="927.3" y2="365.75">
<stop offset="0" stop-color="#70a03c"/><stop offset="0.368" stop-color="#70a03c"/><stop offset="0.46" stop-color="#e8b82a"/><stop offset="0.756" stop-color="#e8b82a"/><stop offset="0.84" stop-color="#921418"/><stop offset="1" stop-color="#921418"/></linearGradient>
<filter id="bl3" x="-5%" y="-5%" width="110%" height="110%"><feGaussianBlur stdDeviation="0.3"/></filter></defs>
<g filter="url(#bl3)">
<rect x="575.6" y="287.3" width="340.9" height="231.7" fill="#fff" stroke="#7f7f7f" stroke-width="1"/>
<path d="M657.1 513.4 L711.0 479.4 L768.7 444.8 L795.8 421.0 L815.5 400.4 L838.7 380.0 L869.1 352.4 L879.0 340.9 L914.4 291.5 L914.2 351.8 L900.2 372.5 L888.3 390.3 L876.5 415.4 L858.8 434.7 L838.0 453.9 L808.5 477.6 L783.7 499.2 L773.2 503.0 L743.6 507.2 L708.0 511.0 Z" fill="url(#gband)"/>
<path d="M710.5 287.3 V519.0 M575.6 479.4 H916.5" stroke="#4472c4" stroke-width="1.8" stroke-dasharray="1.75 1.62" fill="none"/>
<path d="M575.6 287.3 V519.0 H916.5" stroke="#595959" stroke-width="1.4" fill="none"/>
<text x="564.6" y="501.0" font-size="12.8" fill="#1a1a1a" textLength="5.9" lengthAdjust="spacingAndGlyphs">1</text>
<text x="558.6" y="444.6" font-size="12.8" fill="#1a1a1a" textLength="11.9" lengthAdjust="spacingAndGlyphs">10</text>
<text x="552.7" y="388.2" font-size="12.8" fill="#1a1a1a" textLength="17.8" lengthAdjust="spacingAndGlyphs">100</text>
<text x="546.8" y="331.8" font-size="12.8" fill="#1a1a1a" textLength="23.7" lengthAdjust="spacingAndGlyphs">1000</text>
<text x="573.5" y="534" font-size="12.8" fill="#1a1a1a" textLength="5.9" lengthAdjust="spacingAndGlyphs">0</text>
<text x="636.1" y="534" font-size="12.8" fill="#1a1a1a" textLength="11.9" lengthAdjust="spacingAndGlyphs">20</text>
<text x="704.1" y="534" font-size="12.8" fill="#1a1a1a" textLength="11.9" lengthAdjust="spacingAndGlyphs">40</text>
<text x="771.1" y="534" font-size="12.8" fill="#1a1a1a" textLength="11.9" lengthAdjust="spacingAndGlyphs">60</text>
<text x="839.1" y="534" font-size="12.8" fill="#1a1a1a" textLength="11.9" lengthAdjust="spacingAndGlyphs">80</text>
<text x="907.1" y="534" font-size="12.8" fill="#1a1a1a" textLength="17.8" lengthAdjust="spacingAndGlyphs">100</text>
<text x="519.2" y="264.2" font-size="12.8" fill="#1a1a1a" textLength="174.2" lengthAdjust="spacingAndGlyphs">Maximum required storage duration</text>
<text x="519.2" y="281" font-size="12.8" fill="#1a1a1a" textLength="108.1" lengthAdjust="spacingAndGlyphs">(hours at rated power)</text>
<text x="591.1" y="558.2" font-size="12.8" fill="#1a1a1a" textLength="288" lengthAdjust="spacingAndGlyphs">Annual electricity from wind and solar on a regional grid (%)</text>
<text transform="translate(677.1 466.4) rotate(-40.0)" font-size="12.3" fill="#111" textLength="256.0" lengthAdjust="spacingAndGlyphs">Less curtailment, transmission, and grid flexibility.</text>
<text transform="translate(738.9 488.7) rotate(-22.8)" font-size="12.0" fill="#111" textLength="33.5" lengthAdjust="spacingAndGlyphs">Hourly</text>
<text transform="translate(821.3 423.9) rotate(-27.3)" font-size="12.3" font-weight="bold" fill="#111" textLength="52.0" lengthAdjust="spacingAndGlyphs">Day/week</text>
<text transform="translate(874.2 361.8) rotate(-34.6)" font-size="12.3" fill="#2a0606" textLength="46.8" lengthAdjust="spacingAndGlyphs">Seasonal</text>
<text transform="translate(840.4 488.2) rotate(-40.5)" font-size="12.3" fill="#111" textLength="94.5" lengthAdjust="spacingAndGlyphs">More curtailment,</text>
<text transform="translate(849.4 501.0) rotate(-40.5)" font-size="12.3" fill="#111" textLength="92.5" lengthAdjust="spacingAndGlyphs">transmission, and</text>
<text transform="translate(858.4 516.2) rotate(-40.5)" font-size="12.3" fill="#111" textLength="73.0" lengthAdjust="spacingAndGlyphs">grid flexibility.</text>
<path transform="translate(867.9 332.8) rotate(185.2)" d="M-11.2 -4.0 L4.7 -4.0 L4.7 -6.8 L11.2 0.0 L4.7 6.8 L4.7 4.0 L-11.2 4.0 Z" fill="#fff" stroke="#3a3a3a" stroke-width="0.9" stroke-linejoin="miter"/>
<path transform="translate(804.5 395.3) rotate(185.2)" d="M-11.2 -4.0 L4.7 -4.0 L4.7 -6.8 L11.2 0.0 L4.7 6.8 L4.7 4.0 L-11.2 4.0 Z" fill="#fff" stroke="#3a3a3a" stroke-width="0.9" stroke-linejoin="miter"/>
<path transform="translate(736.5 448.3) rotate(185.2)" d="M-11.2 -4.0 L4.7 -4.0 L4.7 -6.8 L11.2 0.0 L4.7 6.8 L4.7 4.0 L-11.2 4.0 Z" fill="#fff" stroke="#3a3a3a" stroke-width="0.9" stroke-linejoin="miter"/>
<path transform="translate(899.9 390.0) rotate(18.5)" d="M-11.2 -4.0 L4.7 -4.0 L4.7 -6.8 L11.2 0.0 L4.7 6.8 L4.7 4.0 L-11.2 4.0 Z" fill="#fff" stroke="#3a3a3a" stroke-width="0.9" stroke-linejoin="miter"/>
<path transform="translate(854.1 449.5) rotate(18.5)" d="M-11.2 -4.0 L4.7 -4.0 L4.7 -6.8 L11.2 0.0 L4.7 6.8 L4.7 4.0 L-11.2 4.0 Z" fill="#fff" stroke="#3a3a3a" stroke-width="0.9" stroke-linejoin="miter"/>
<path transform="translate(797.3 499.2) rotate(18.5)" d="M-11.2 -4.0 L4.7 -4.0 L4.7 -6.8 L11.2 0.0 L4.7 6.8 L4.7 4.0 L-11.2 4.0 Z" fill="#fff" stroke="#3a3a3a" stroke-width="0.9" stroke-linejoin="miter"/>
</g></svg>

<div id="cite" class="abs">Long-Duration Electricity Storage Applications, Economics, and Technologies. Joule 2020;4:21–32.</div>
</body>
</html>
